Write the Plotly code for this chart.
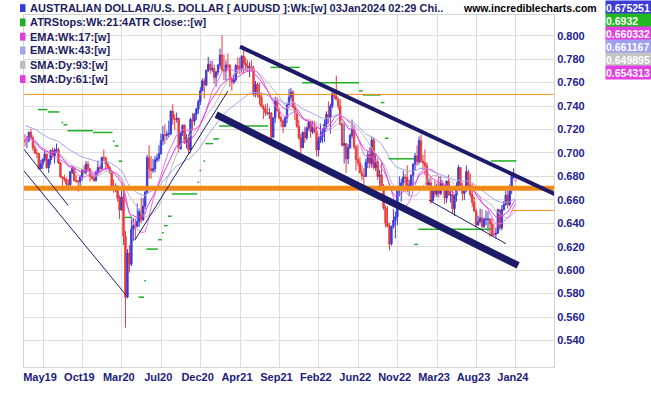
import pandas as pd
import plotly.graph_objects as go

# ---------------- data (weekly AUDUSD) ----------------
first_week = "2019-03-25"
first_open = 0.7105
closes = [
    0.7100, 0.7105, 0.7175, 0.7130, 0.7045, 0.7000, 0.6995, 0.6865, 0.6905, 0.6945,
    0.6990, 0.6875, 0.6940, 0.7020, 0.6975, 0.7025, 0.7030, 0.6915, 0.6795, 0.6785,
    0.6775, 0.6735, 0.6730, 0.6840, 0.6870, 0.6765, 0.6760, 0.6755, 0.6795, 0.6855,
    0.6835, 0.6905, 0.6865, 0.6800, 0.6785, 0.6765, 0.6835, 0.6875, 0.6865, 0.6960,
    0.6955, 0.6905, 0.6875, 0.6840, 0.6690, 0.6680, 0.6715, 0.6615, 0.6515, 0.6625,
    0.6290, 0.5770, 0.6145, 0.6050, 0.6350, 0.6380, 0.6375, 0.6415, 0.6505, 0.6430,
    0.6545, 0.6665, 0.6960, 0.6865, 0.6850, 0.6865, 0.6940, 0.6955, 0.6995, 0.7105,
    0.7155, 0.7150, 0.7160, 0.7165, 0.7355, 0.7290, 0.7285, 0.7295, 0.7035, 0.7175,
    0.7235, 0.7090, 0.7130, 0.7025, 0.7285, 0.7270, 0.7330, 0.7375, 0.7440, 0.7530,
    0.7615, 0.7580, 0.7705, 0.7755, 0.7710, 0.7720, 0.7645, 0.7690, 0.7750, 0.7835,
    0.7710, 0.7700, 0.7750, 0.7745, 0.7635, 0.7605, 0.7625, 0.7745, 0.7725, 0.7715,
    0.7825, 0.7765, 0.7745, 0.7715, 0.7735, 0.7720, 0.7495, 0.7585, 0.7515, 0.7475,
    0.7395, 0.7375, 0.7345, 0.7335, 0.7340, 0.7135, 0.7300, 0.7440, 0.7360, 0.7300,
    0.7270, 0.7225, 0.7300, 0.7410, 0.7475, 0.7520, 0.7390, 0.7345, 0.7225, 0.7130,
    0.7045, 0.7175, 0.7130, 0.7215, 0.7265, 0.7180, 0.7215, 0.7185, 0.7025, 0.7105,
    0.7140, 0.7180, 0.7245, 0.7330, 0.7300, 0.7400, 0.7505, 0.7485, 0.7455, 0.7400,
    0.7245, 0.7065, 0.7080, 0.6950, 0.7045, 0.7150, 0.7200, 0.7050, 0.6945, 0.6915,
    0.6830, 0.6805, 0.6800, 0.6920, 0.6985, 0.6910, 0.7110, 0.6875, 0.6925, 0.6800,
    0.6810, 0.6710, 0.6530, 0.6400, 0.6375, 0.6225, 0.6375, 0.6425, 0.6455, 0.6700,
    0.6700, 0.6745, 0.6795, 0.6790, 0.6690, 0.6725, 0.6810, 0.6905, 0.6975, 0.6925,
    0.7105, 0.6930, 0.6915, 0.6890, 0.6730, 0.6745, 0.6590, 0.6705, 0.6650, 0.6685,
    0.6655, 0.6740, 0.6695, 0.6615, 0.6760, 0.6640, 0.6645, 0.6525, 0.6640, 0.6715,
    0.6875, 0.6685, 0.6655, 0.6695, 0.6840, 0.6725, 0.6645, 0.6580, 0.6505, 0.6385,
    0.6415, 0.6445, 0.6375, 0.6435, 0.6435, 0.6435, 0.6395, 0.6305, 0.6305, 0.6315,
    0.6515, 0.6360, 0.6515, 0.6560, 0.6640, 0.6560, 0.6705, 0.6800, 0.6815, 0.6753,
]
highs = [
    0.7160, 0.7145, 0.7185, 0.7205, 0.7150, 0.7070, 0.7035, 0.7000, 0.6940, 0.6955,
    0.7020, 0.6995, 0.6950, 0.7030, 0.7045, 0.7040, 0.7080, 0.7045, 0.6925, 0.6800,
    0.6815, 0.6790, 0.6775, 0.6845, 0.6895, 0.6880, 0.6810, 0.6770, 0.6810, 0.6865,
    0.6895, 0.6930, 0.6930, 0.6870, 0.6830, 0.6810, 0.6850, 0.6935, 0.6900, 0.6970,
    0.7030, 0.6970, 0.6930, 0.6890, 0.6850, 0.6775, 0.6740, 0.6725, 0.6640, 0.6685,
    0.6685, 0.6335, 0.6180, 0.6215, 0.6445, 0.6445, 0.6440, 0.6570, 0.6525, 0.6620,
    0.6615, 0.6685, 0.6985, 0.7065, 0.6975, 0.6950, 0.6975, 0.6990, 0.7065, 0.7165,
    0.7230, 0.7245, 0.7190, 0.7275, 0.7365, 0.7415, 0.7330, 0.7345, 0.7300, 0.7185,
    0.7245, 0.7245, 0.7160, 0.7160, 0.7300, 0.7340, 0.7340, 0.7385, 0.7455, 0.7560,
    0.7635, 0.7640, 0.7710, 0.7820, 0.7790, 0.7785, 0.7755, 0.7700, 0.7760, 0.7890,
    0.8005, 0.7840, 0.7790, 0.7850, 0.7760, 0.7650, 0.7675, 0.7760, 0.7815, 0.7815,
    0.7835, 0.7890, 0.7815, 0.7795, 0.7775, 0.7790, 0.7745, 0.7615, 0.7600, 0.7600,
    0.7505, 0.7410, 0.7415, 0.7425, 0.7385, 0.7350, 0.7305, 0.7480, 0.7475, 0.7380,
    0.7315, 0.7285, 0.7310, 0.7425, 0.7545, 0.7555, 0.7535, 0.7430, 0.7370, 0.7285,
    0.7165, 0.7185, 0.7225, 0.7225, 0.7275, 0.7275, 0.7275, 0.7275, 0.7225, 0.7140,
    0.7250, 0.7210, 0.7285, 0.7355, 0.7440, 0.7420, 0.7540, 0.7540, 0.7660, 0.7475,
    0.7460, 0.7265, 0.7265, 0.7085, 0.7075, 0.7165, 0.7285, 0.7240, 0.7070, 0.7070,
    0.6965, 0.6895, 0.6870, 0.6950, 0.7015, 0.7050, 0.7135, 0.7130, 0.6995, 0.6955,
    0.6855, 0.6915, 0.6735, 0.6550, 0.6545, 0.6405, 0.6380, 0.6520, 0.6500, 0.6710,
    0.6800, 0.6780, 0.6850, 0.6820, 0.6895, 0.6770, 0.6815, 0.6910, 0.7000, 0.7065,
    0.7140, 0.7158, 0.6985, 0.7030, 0.6920, 0.6785, 0.6785, 0.6715, 0.6760, 0.6740,
    0.6795, 0.6805, 0.6765, 0.6715, 0.6765, 0.6815, 0.6710, 0.6705, 0.6645, 0.6750,
    0.6900, 0.6875, 0.6745, 0.6715, 0.6895, 0.6860, 0.6825, 0.6740, 0.6625, 0.6525,
    0.6465, 0.6525, 0.6520, 0.6450, 0.6510, 0.6500, 0.6445, 0.6445, 0.6395, 0.6360,
    0.6525, 0.6520, 0.6555, 0.6590, 0.6690, 0.6675, 0.6730, 0.6815, 0.6870, 0.6830,
]
lows = [
    0.7055, 0.7040, 0.7090, 0.7125, 0.7020, 0.6990, 0.6955, 0.6860, 0.6865, 0.6865,
    0.6925, 0.6865, 0.6830, 0.6900, 0.6960, 0.6910, 0.7000, 0.6905, 0.6790, 0.6675,
    0.6755, 0.6700, 0.6690, 0.6685, 0.6820, 0.6755, 0.6745, 0.6670, 0.6715, 0.6765,
    0.6820, 0.6815, 0.6850, 0.6755, 0.6770, 0.6755, 0.6755, 0.6805, 0.6840, 0.6860,
    0.6930, 0.6850, 0.6860, 0.6820, 0.6685, 0.6660, 0.6665, 0.6585, 0.6435, 0.6505,
    0.6215, 0.5510, 0.5760, 0.5980, 0.6035, 0.6250, 0.6255, 0.6370, 0.6370, 0.6400,
    0.6420, 0.6520, 0.6650, 0.6780, 0.6780, 0.6830, 0.6835, 0.6920, 0.6930, 0.6985,
    0.7065, 0.7075, 0.7110, 0.7130, 0.7150, 0.7240, 0.7195, 0.7260, 0.7005, 0.7030,
    0.7145, 0.7075, 0.7040, 0.6990, 0.7000, 0.7190, 0.7235, 0.7280, 0.7335, 0.7410,
    0.7525, 0.7465, 0.7570, 0.7690, 0.7675, 0.7690, 0.7590, 0.7565, 0.7665, 0.7720,
    0.7690, 0.7620, 0.7620, 0.7705, 0.7565, 0.7530, 0.7585, 0.7605, 0.7675, 0.7675,
    0.7685, 0.7675, 0.7700, 0.7690, 0.7645, 0.7695, 0.7480, 0.7475, 0.7475, 0.7410,
    0.7395, 0.7290, 0.7315, 0.7320, 0.7290, 0.7105, 0.7125, 0.7255, 0.7355, 0.7285,
    0.7220, 0.7170, 0.7225, 0.7255, 0.7410, 0.7445, 0.7380, 0.7280, 0.7215, 0.7110,
    0.7000, 0.7040, 0.7085, 0.7110, 0.7190, 0.7130, 0.7160, 0.7165, 0.6970, 0.6970,
    0.7085, 0.7085, 0.7095, 0.7205, 0.7250, 0.7165, 0.7380, 0.7460, 0.7455, 0.7370,
    0.7235, 0.7055, 0.6910, 0.6830, 0.6905, 0.7035, 0.7125, 0.7030, 0.6850, 0.6885,
    0.6830, 0.6765, 0.6680, 0.6800, 0.6870, 0.6870, 0.6875, 0.6860, 0.6845, 0.6770,
    0.6700, 0.6685, 0.6515, 0.6365, 0.6365, 0.6170, 0.6210, 0.6355, 0.6270, 0.6385,
    0.6630, 0.6585, 0.6705, 0.6670, 0.6665, 0.6630, 0.6690, 0.6690, 0.6850, 0.6890,
    0.6900, 0.6915, 0.6855, 0.6810, 0.6700, 0.6695, 0.6565, 0.6590, 0.6620, 0.6625,
    0.6620, 0.6640, 0.6685, 0.6565, 0.6575, 0.6640, 0.6575, 0.6490, 0.6460, 0.6585,
    0.6700, 0.6680, 0.6595, 0.6600, 0.6665, 0.6715, 0.6620, 0.6540, 0.6500, 0.6365,
    0.6380, 0.6400, 0.6355, 0.6360, 0.6385, 0.6330, 0.6285, 0.6285, 0.6290, 0.6270,
    0.6315, 0.6340, 0.6340, 0.6510, 0.6550, 0.6525, 0.6545, 0.6650, 0.6780, 0.6740,
]

# ATR stop segments (first week index, last week index, level)
atr_start = [7, 12, 19, 20, 22, 35, 45, 46, 48, 51, 58, 61, 62, 68, 70, 71, 73, 75, 88, 89, 91,
             92, 96, 99, 125, 141, 170, 172, 181, 183, 185, 198, 200, 237]
atr_end = [11, 17, 19, 21, 34, 44, 45, 47, 49, 54, 60, 61, 67, 69, 70, 72, 74, 87, 88, 89, 91,
           95, 98, 123, 139, 169, 171, 180, 182, 184, 197, 199, 236, 249]
atr_level = [0.737, 0.735, 0.726, 0.724, 0.719, 0.7175, 0.710, 0.706, 0.693, 0.645, 0.577, 0.591,
             0.618, 0.626, 0.632, 0.638, 0.646, 0.665, 0.675, 0.685, 0.693, 0.708, 0.712, 0.723,
             0.773, 0.760, 0.753, 0.7495, 0.743, 0.7125, 0.695, 0.622, 0.635, 0.6932]

# moving-average settings and starting values read at the left edge
ema_fast_span, ema_slow_span = 17, 43
ema_fast_seed, ema_slow_seed = 0.712, 0.724
sma_93d_weeks, sma_61d_weeks = 19, 12

# hand-drawn trend lines (start date, start price, end date, end price)
tl_x0 = ["2021-04-27", "2021-02-01", "2019-03-21", "2019-03-21", "2020-04-19", "2023-02-28"]
tl_y0 = [0.7907, 0.7327, 0.7033, 0.6848, 0.6259, 0.6596]
tl_x1 = ["2024-06-28", "2024-01-10", "2019-08-25", "2020-03-18", "2021-03-15", "2023-11-28"]
tl_y1 = [0.6604, 0.6040, 0.6553, 0.5788, 0.7529, 0.6226]
tl_width = [4, 7, 1, 1, 1, 1]

# horizontal support / resistance lines (price, start date, width)
hl_price = [0.670, 0.750, 0.651]
hl_start = ["2019-03-20", "2019-03-20", "2023-12-20"]
hl_width = [5, 1, 1]

# axis ticks
y_ticks = [0.54, 0.56, 0.58, 0.60, 0.62, 0.64, 0.66, 0.68, 0.70, 0.72, 0.74, 0.76, 0.78, 0.80]
x_tick_dates = ["2019-05-28", "2019-10-15", "2020-03-03", "2020-07-21", "2020-12-08", "2021-04-27",
                "2021-09-14", "2022-02-01", "2022-06-21", "2022-11-08", "2023-03-28", "2023-08-15",
                "2024-01-02"]
x_tick_labels = ["May19", "Oct19", "Mar20", "Jul20", "Dec20", "Apr21", "Sep21", "Feb22", "Jun22",
                 "Nov22", "Mar23", "Aug23", "Jan24"]

legend_labels = ["AUSTRALIAN DOLLAR/U.S. DOLLAR [ AUDUSD ]:Wk:[w] 03Jan2024 02:29 Chi..",
                 "ATRStops:Wk:21:4ATR Close::[w]", "EMA:Wk:17:[w]", "EMA:Wk:43:[w]",
                 "SMA:Dy:93:[w]", "SMA:Dy:61:[w]"]
last_values = ["0.675251", "0.6932", "0.660332", "0.661167", "0.649895", "0.654313"]

# ---------------- derived ----------------
dates = pd.date_range(first_week, periods=len(closes), freq="7D")
opens = [first_open] + closes[:-1]
cs = pd.Series(closes, index=dates)


def ema(values, span, seed):
    a = 2.0 / (span + 1)
    out, e = [], seed
    for v in values:
        e = e + a * (v - e)
        out.append(e)
    return out


ema_fast = ema(closes, ema_fast_span, ema_fast_seed)
ema_slow = ema(closes, ema_slow_span, ema_slow_seed)
sma93 = cs.rolling(sma_93d_weeks, min_periods=1).mean()
sma61 = cs.rolling(sma_61d_weeks, min_periods=1).mean()

BLUE = "#3b3bd8"
RED = "#ea3a3c"
NAVY = "#1b1b6a"
ORANGE = "#f28a1a"
GREEN = "#1fae24"
C_EMA17 = "#e03ee0"
C_EMA43 = "#a4a4ee"
C_SMA93 = "#bdbdbd"
C_SMA61 = "#ee6aee"

fig = go.Figure()

# moving averages (behind candles)
for ys, col in [(sma93, C_SMA93), (ema_slow, C_EMA43), (sma61, C_SMA61), (ema_fast, C_EMA17)]:
    fig.add_trace(go.Scatter(x=dates, y=list(ys), mode="lines",
                             line=dict(color=col, width=1), hoverinfo="skip", showlegend=False))

# candles (all but the live week)
n = len(closes)
fig.add_trace(go.Candlestick(
    x=dates[:n - 1], open=opens[:n - 1], high=highs[:n - 1], low=lows[:n - 1], close=closes[:n - 1],
    increasing=dict(line=dict(color=BLUE, width=1), fillcolor=BLUE),
    decreasing=dict(line=dict(color=RED, width=1), fillcolor=RED),
    whiskerwidth=0, showlegend=False, hoverinfo="skip"))
# live (incomplete) week in pale colour
fig.add_trace(go.Candlestick(
    x=dates[n - 1:], open=opens[n - 1:], high=highs[n - 1:], low=lows[n - 1:], close=closes[n - 1:],
    increasing=dict(line=dict(color="#f2a6c8", width=1), fillcolor="#f2a6c8"),
    decreasing=dict(line=dict(color="#f2a6c8", width=1), fillcolor="#f2a6c8"),
    whiskerwidth=0, showlegend=False, hoverinfo="skip"))

# ATR stops
half = pd.Timedelta(days=3)
ax, ay = [], []
for s, e, lv in zip(atr_start, atr_end, atr_level):
    ax += [dates[s] - half, dates[e] + half, None]
    ay += [lv, lv, None]
fig.add_trace(go.Scatter(x=ax, y=ay, mode="lines", line=dict(color=GREEN, width=1.5),
                         connectgaps=False, hoverinfo="skip", showlegend=False))

x_end = dates[0] + pd.Timedelta(weeks=268.5)
x_start = dates[0] - pd.Timedelta(days=3.5)

# horizontal lines
for p, st, w in zip(hl_price, hl_start, hl_width):
    fig.add_trace(go.Scatter(x=[pd.Timestamp(st), x_end], y=[p, p], mode="lines",
                             line=dict(color=ORANGE, width=w), hoverinfo="skip", showlegend=False))

# trend lines
for x0, y0, x1, y1, w in zip(tl_x0, tl_y0, tl_x1, tl_y1, tl_width):
    fig.add_trace(go.Scatter(x=[x0, x1], y=[y0, y1], mode="lines",
                             line=dict(color=NAVY, width=w), hoverinfo="skip", showlegend=False))

# ---------------- layout ----------------
W, H = 651, 395
L, R, T, B = 24, 97, 15, 23
PW, PH = W - L - R, H - T - B


def px(x):
    return (x - L) / PW


def py(y):
    return 1 - (y - T) / PH


FONT = "Liberation Sans, Arial, sans-serif"
annotations = []
shapes = []
legend_colors = [BLUE, GREEN, C_EMA17, C_EMA43, C_SMA93, C_EMA17]
row_y = [8, 22.5, 37, 51, 65.5, 80]
for lab, col, yy in zip(legend_labels, legend_colors, row_y):
    shapes.append(dict(type="rect", xref="paper", yref="paper", x0=px(20), x1=px(25.5),
                       y0=py(yy + 4), y1=py(yy - 4), fillcolor=col, line=dict(width=0), layer="above"))
    annotations.append(dict(xref="paper", yref="paper", x=px(28), y=py(yy), xanchor="left",
                            yanchor="middle", text=lab, showarrow=False,
                            font=dict(family=FONT, size=11, color="#1c1c5e", weight="bold")))
annotations.append(dict(xref="paper", yref="paper", x=px(599), y=py(8), xanchor="right",
                        yanchor="middle", text="www.incrediblecharts.com", showarrow=False,
                        font=dict(family=FONT, size=10.5, color="#000000", weight="bold")))
box_colors = [BLUE, "#22b822", "#e33fe3", "#a0a0ee", "#c4c4c4", "#e33fe3"]
box_top = [0, 13.2, 26.4, 39.6, 52.8, 66]
for val, col, top in zip(last_values, box_colors, box_top):
    annotations.append(dict(xref="paper", yref="paper", x=px(605), y=py(top), xanchor="left",
                            yanchor="top", text=val, showarrow=False, width=46, height=13,
                            align="left", bgcolor=col, borderpad=0,
                            font=dict(family=FONT, size=10.5, color="#ffffff", weight="bold")))

fig.update_layout(
    width=W, height=H, margin=dict(l=L, r=R, t=T, b=B),
    paper_bgcolor="white", plot_bgcolor="white",
    showlegend=False, boxgap=0.0, boxmode="overlay",
    annotations=annotations, shapes=shapes,
    xaxis=dict(type="date", range=[x_start, x_end], rangeslider=dict(visible=False),
               tickvals=x_tick_dates, ticktext=x_tick_labels, ticks="",
               showgrid=True, gridcolor="#dddddd", gridwidth=1, zeroline=False,
               showline=True, linecolor="#d4d4d4", mirror=True, ticklabelshift=-3,
               tickfont=dict(family=FONT, size=11, color="#1c1c7a", weight="bold")),
    yaxis=dict(side="right", range=[0.5174, 0.8177], tickvals=y_ticks,
               ticktext=[f"{v:.3f}" for v in y_ticks], ticks="",
               showgrid=True, gridcolor="#dddddd", gridwidth=1, zeroline=False,
               showline=True, linecolor="#d4d4d4", mirror=True,
               tickfont=dict(family=FONT, size=11, color="#22228a", weight="bold")),
)

fig.write_html("out.html", config={"displayModeBar": False},
               post_script="document.body.style.margin='0px';document.body.style.padding='0px';")
